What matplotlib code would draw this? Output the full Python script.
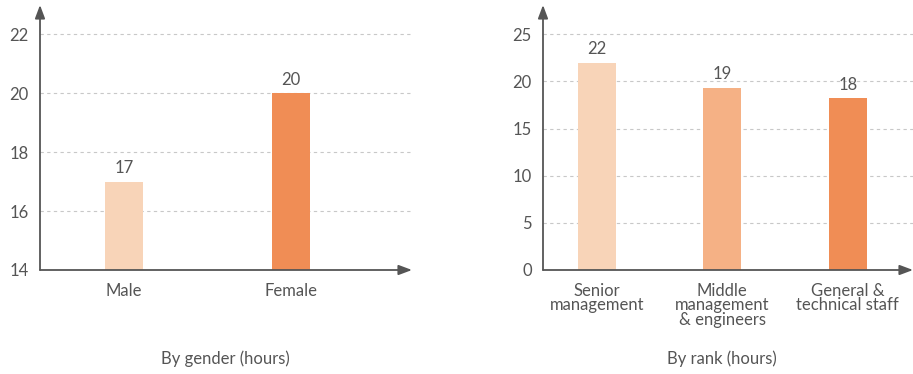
import matplotlib
matplotlib.use("Agg")
import matplotlib.pyplot as plt

plt.rcParams['font.family'] = ['Lato', 'DejaVu Sans']

# by gender
gender_labels = ['Male', 'Female']
gender_hours = [17, 20]
gender_colors = ['#F8D4B8', '#F08D55']
gender_ticks = [14, 16, 18, 20, 22]

# by rank
rank_labels = ['Senior\nmanagement', 'Middle\nmanagement\n& engineers', 'General &\ntechnical staff']
rank_hours = [22, 19.3, 18.2]
rank_colors = ['#F8D4B8', '#F5B185', '#F08D55']
rank_ticks = [0, 5, 10, 15, 20, 25]

txt = '#555555'
axcol = '#555555'
fs = 12

fig = plt.figure(figsize=(9.13, 3.74), dpi=100)


def draw_panel(ax, labels, vals, colors, ticks, ylim, xlim, width, title, title_x):
    ax.set_xlim(*xlim)
    ax.set_ylim(*ylim)
    for t in ticks[1:]:
        ax.axhline(t, color='#C8C8C8', lw=0.8, ls=(0, (3, 3)), zorder=0)
    x = range(len(vals))
    ax.bar(x, [v - ylim[0] for v in vals], bottom=ylim[0], width=width, color=colors, zorder=2)
    for xi, v in zip(x, vals):
        ax.annotate('%.0f' % v, (xi, v), xytext=(0, 4), textcoords='offset points',
                    ha='center', va='bottom', fontsize=fs, color=txt)
    for s in ax.spines.values():
        s.set_visible(False)
    ax.set_yticks(ticks)
    ax.set_xticks(list(x))
    ax.set_xticklabels(labels, linespacing=0.92)
    ax.tick_params(length=0, labelsize=fs, labelcolor=txt)
    ax.tick_params(axis='y', pad=8)
    ax.tick_params(axis='x', pad=9)
    # axis arrows
    ax.annotate('', xy=(1.0, 0), xytext=(0, 0), xycoords='axes fraction',
                arrowprops=dict(arrowstyle='-|>,head_length=0.8,head_width=0.3', color=axcol, lw=1.3,
                                shrinkA=0, shrinkB=0), annotation_clip=False)
    ax.annotate('', xy=(0, 1.0), xytext=(0, 0), xycoords='axes fraction',
                arrowprops=dict(arrowstyle='-|>,head_length=0.8,head_width=0.3', color=axcol, lw=1.3,
                                shrinkA=0, shrinkB=0), annotation_clip=False)
    fig.text(title_x, 0.04, title, ha='center', va='center', fontsize=fs, color=txt)


ax1 = fig.add_axes([40 / 913, 104 / 374, 372 / 913, 265 / 374])
draw_panel(ax1, gender_labels, gender_hours, gender_colors, gender_ticks,
           (14, 23.0), (-0.503, 1.725), 0.228, 'By gender (hours)', 225 / 913)

ax2 = fig.add_axes([543 / 913, 104 / 374, 370 / 913, 265 / 374])
draw_panel(ax2, rank_labels, rank_hours, rank_colors, rank_ticks,
           (0, 28.1), (-0.43, 2.52), 0.303, 'By rank (hours)', 722 / 913)

fig.savefig('out.png', dpi=100)
